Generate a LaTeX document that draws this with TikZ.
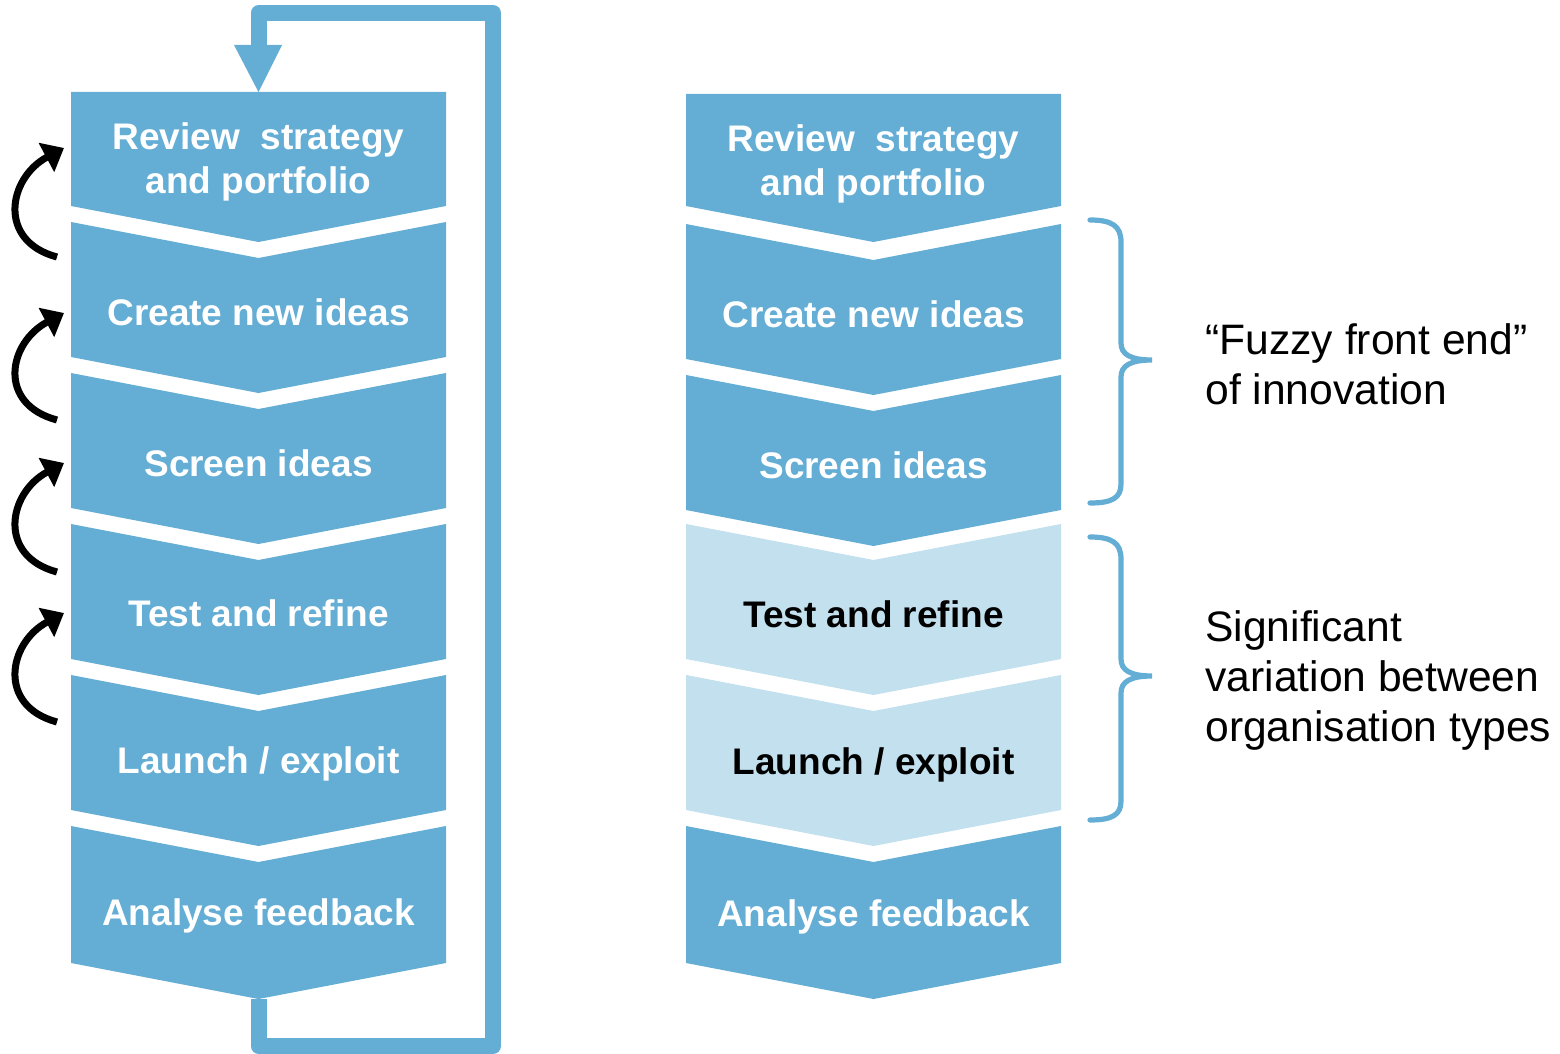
\documentclass[tikz,border=0pt]{standalone}
\usepackage{fontspec}
\setmainfont{Liberation Sans}
\usetikzlibrary{arrows.meta}
\definecolor{dblue}{RGB}{100,173,212}
\definecolor{lblue}{RGB}{194,224,238}
\newcommand\chevbox[4]{%
  \fill[#4] (#1,#2) -- (#1+187.5,#2+36) -- (#1+375,#2) -- (#1+375,#3) -- (#1+187.5,#3+36) -- (#1,#3) -- cycle;}
\newcommand\topbox[3]{%
  \fill[#3] (#1,#2) -- (#1+375,#2) -- (#1+375,206) -- (#1+187.5,242) -- (#1,206) -- cycle;}
\begin{document}
\begin{tikzpicture}[x=0.5pt,y=-0.5pt,
  lbl/.style={text=white,font=\fontsize{18.5}{22}\selectfont\bfseries,align=center,inner sep=0pt},
  lbld/.style={lbl,text=black},
  side/.style={font=\fontsize{21.3}{25}\selectfont,align=left,anchor=west,inner sep=0pt},
  fbloop/.style={draw=dblue,line width=8pt,line join=round},
  itarrow/.style={draw=black,line width=3.5pt,-{Triangle[length=10pt,width=16pt]}},
  bracestyle/.style={draw=dblue,line width=2.6pt,line cap=round}]
\useasboundingbox (0,0) rectangle (1560,1054);
% left column
\topbox{71}{92}{dblue}
\chevbox{71}{222}{357}{dblue}
\chevbox{71}{373}{508}{dblue}
\chevbox{71}{524}{659}{dblue}
\chevbox{71}{675}{810}{dblue}
\chevbox{71}{826}{963}{dblue}
% right column
\topbox{686}{94}{dblue}
\chevbox{686}{224}{359}{dblue}
\chevbox{686}{375}{510}{dblue}
\chevbox{686}{524}{659}{lblue}
\chevbox{686}{675}{810}{lblue}
\chevbox{686}{826}{963}{dblue}
% labels left
\node[lbl] (l1) at (258.5,162) {Review\ \ strategy\\and portfolio};
\node[lbl] (l2) at (258.5,312) {Create new ideas};
\node[lbl] (l3) at (258.5,463) {Screen ideas};
\node[lbl] (l4) at (258.5,613) {Test and refine};
\node[lbl] (l5) at (258.5,764) {Launch / exploit};
\node[lbl] (l6) at (258.5,916) {Analyse feedback};
% labels right
\node[lbl] (r1) at (873.5,164) {Review\ \ strategy\\and portfolio};
\node[lbl] (r2) at (873.5,314) {Create new ideas};
\node[lbl] (r3) at (873.5,465) {Screen ideas};
\node[lbld] (r4) at (873.5,614) {Test and refine};
\node[lbld] (r5) at (873.5,765) {Launch / exploit};
\node[lbl] (r6) at (873.5,917) {Analyse feedback};
% feedback loop
\coordinate (fbot) at (258.5,999);
\coordinate (ftop) at (258.5,92);
\draw[fbloop] (fbot) -- (258.5,1046) -| (493,13) -| (258.5,45);
\fill[dblue] (234,45) -- (282,45) -- (ftop) -- cycle;
% iteration arrows
\coordinate (a1s) at (57,257); \coordinate (a1e) at (64,148);
\coordinate (a2s) at (57,420); \coordinate (a2e) at (64,313);
\coordinate (a3s) at (57,572); \coordinate (a3e) at (64,463);
\coordinate (a4s) at (57,722); \coordinate (a4e) at (64,613);
\foreach \s/\e in {a1s/a1e,a2s/a2e,a3s/a3e,a4s/a4e}{
  \draw[itarrow] (\s) .. controls ([xshift=-30pt,yshift=8pt]\s) and ([xshift=-28pt,yshift=-15pt]\e) .. (\e);
}
% braces
\draw[bracestyle] (1090,220) .. controls (1112,220) and (1121,226) .. (1121,242) -- (1121,343)
  .. controls (1121,354) and (1130,360) .. (1152,360)
  .. controls (1130,360) and (1121,366) .. (1121,377) -- (1121,484)
  .. controls (1121,498) and (1112,503) .. (1090,503);
\draw[bracestyle] (1090,537) .. controls (1112,537) and (1121,543) .. (1121,559) -- (1121,659)
  .. controls (1121,670) and (1130,676) .. (1152,676)
  .. controls (1130,676) and (1121,682) .. (1121,693) -- (1121,801)
  .. controls (1121,815) and (1112,820) .. (1090,820);
% side texts
\node[side] (t1) at (1205,364) {“Fuzzy front end”\\of innovation};
\node[side] (t2) at (1205,680) {Significant\\variation between\\organisation types};
\end{tikzpicture}
\end{document}
